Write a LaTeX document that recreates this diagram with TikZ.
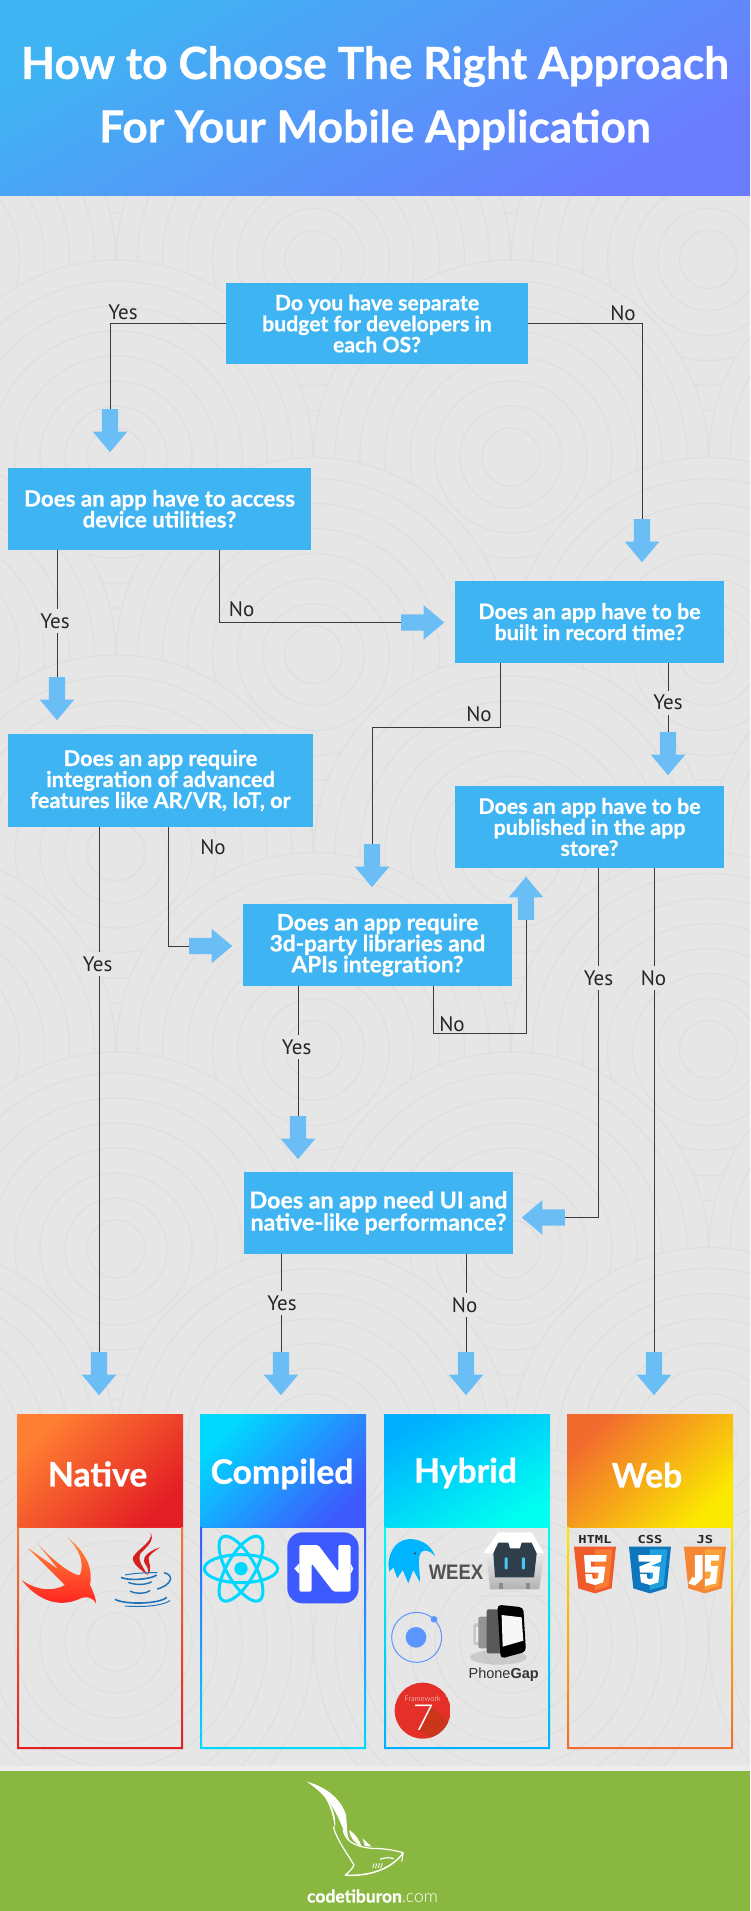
\documentclass[tikz,border=0pt]{standalone}
\usepackage{fontspec}
\setmainfont{Lato}[BoldFeatures={FakeBold=0.7}]
\newfontfamily\labelfont{PT Sans}
\newfontfamily\badgefont{DejaVu Sans Mono}
\newfontfamily\gapfont{Liberation Sans}
\newfontfamily\thinfont{Lato Light}
\usetikzlibrary{shapes.arrows}

\definecolor{bgcol}{HTML}{E6E6E6}
\definecolor{ringcol}{HTML}{DFDFDF}
\definecolor{boxcol}{HTML}{3EB4F2}
\definecolor{arrowcol}{HTML}{6ABDF5}
\definecolor{linecol}{HTML}{3A3A3A}
\definecolor{HeaderEnd}{HTML}{6B7CFF}
\definecolor{NativeA}{HTML}{FF7F32}
\definecolor{NativeB}{HTML}{E31E24}
\definecolor{NativeFrame}{HTML}{F47B35}
\definecolor{CompiledA}{HTML}{00D9FF}
\definecolor{CompiledB}{HTML}{3D5AFE}
\definecolor{HybridA}{HTML}{00B0FF}
\definecolor{HybridB}{HTML}{00FFF0}
\definecolor{WebA}{HTML}{F26B2E}
\definecolor{WebB}{HTML}{FBEA00}
\definecolor{SwiftA}{HTML}{FF8C3A}
\definecolor{SwiftB}{HTML}{FF1F1F}
\definecolor{JavaRed}{HTML}{D42020}
\definecolor{JavaBlue}{HTML}{1F73B8}
\definecolor{ReactCyan}{HTML}{00D8FF}
\definecolor{NBlue}{HTML}{3D5AFE}
\definecolor{EagleBlue}{HTML}{00B4FF}
\definecolor{CordovaDark}{HTML}{2F3E4B}
\definecolor{IonicBlue}{HTML}{5B95FF}
\definecolor{F7Red}{HTML}{E5302A}
\definecolor{F7Dark}{HTML}{C9361A}
\definecolor{HtmlA}{HTML}{F15A2B}
\definecolor{HtmlB}{HTML}{F77B33}
\definecolor{CssA}{HTML}{0E76BC}
\definecolor{CssB}{HTML}{20A0DC}
\definecolor{JsA}{HTML}{F58634}
\definecolor{JsB}{HTML}{FBA23A}
\definecolor{FooterGreen}{HTML}{8AB73F}

\tikzset{
    question/.style={fill=boxcol, text=white, inner sep=0pt, align=center,
        font=\fontsize{#1}{21}\selectfont\bfseries},
    flow/.style={single arrow, fill=arrowcol, inner sep=8pt, minimum width=34pt,
        minimum height=43pt, single arrow head extend=9pt, single arrow tip angle=80,
        anchor=tail},
    link/.style={draw=linecol, line width=1pt},
    answer/.style={inner sep=0pt, text=black!85, font=\labelfont\fontsize{21}{21}\selectfont},
    gapanswer/.style={answer, fill=bgcol, minimum height=24pt, minimum width=28pt},
    ring/.style={draw=ringcol, line width=1.3pt},
    cardname/.style={text=white, inner sep=0pt, font=\fontsize{33.7}{33.7}\selectfont\bfseries},
    badge/.style={inner sep=0pt, text=black!85, font=\badgefont\bfseries\fontsize{11}{11}\selectfont,
        xscale=1.25, transform shape}
}

\begin{document}
\begin{tikzpicture}[x=1pt,y=-1pt]

    \useasboundingbox (0,0) rectangle (750,1911);
    \fill[color=black!7] (0,0) rectangle (750,1911);

    \begin{scope}
        \clip (0,195) rectangle (750,1765);
        \fill[bgcol] (0,195) rectangle (750,1765);
        \foreach \rowy/\rowx in {62/116,259.5/-81.5,457/116,654.5/-81.5,852/116,1049.5/-81.5,1249/116,1444.5/-81.5,1642/116}{
            \foreach \col in {0,1,2}{
                \fill[bgcol] ({\rowx+395*\col},\rowy) circle (197);
                \foreach \rad in {29,51,76,101,126,151,176,197}{
                    \draw[ring] ({\rowx+395*\col},\rowy) circle (\rad);
                }
            }
        }
    \end{scope}

    \shade[top color=boxcol, bottom color=HeaderEnd, shading angle=30] (0,0) rectangle (750,195);
    \node[inner sep=0pt, align=center, text=white, font=\fontsize{44.3}{63.5}\selectfont\bfseries] (title) at (375,98)
        {How to Choose The Right Approach\\For Your Mobile Application};

    \node[question=21.2, minimum width=302pt, minimum height=81pt] (budget) at (377,323.5)
        {Do you have separate\\budget for developers in\\each OS?};
    \node[question=22.3, minimum width=303pt, minimum height=81.5pt] (utilities) at (159.5,508.75)
        {Does an app have to access\\device utilities?};
    \node[question=21.4, minimum width=269pt, minimum height=81.5pt] (recordtime) at (589.5,621.75)
        {Does an app have to be\\built in record time?};
    \node[question=21.7, minimum width=305pt, minimum height=93pt] (advanced) at (160.5,780.5)
        {Does an app require\\integration of advanced\\features like AR/VR, IoT, or};
    \node[question=21.4, minimum width=269pt, minimum height=82pt] (published) at (589.5,827)
        {Does an app have to be\\published in the app\\store?};
    \node[question=22.6, minimum width=269pt, minimum height=82pt] (libraries) at (377.5,945)
        {Does an app require\\3d-party libraries and\\APIs integration?};
    \node[question=23.2, minimum width=269pt, minimum height=81.5pt] (performance) at (378.5,1212.75)
        {Does an app need UI and\\native-like performance?};

    \node[flow, shape border rotate=270] (arrowutil) at (110,409) {};
    \node[flow, shape border rotate=270] (arrowrec) at (642,519) {};
    \node[flow, shape border rotate=0] (arrowrec2) at (401,622.5) {};
    \node[flow, shape border rotate=270] (arrowadv) at (57,677) {};
    \node[flow, shape border rotate=270] (arrowpub) at (668,732) {};
    \node[flow, shape border rotate=270] (arrowlib) at (372,844) {};
    \node[flow, shape border rotate=0] (arrowlib2) at (189,946) {};
    \node[flow, shape border rotate=90] (arrowpub2) at (526,920) {};
    \node[flow, shape border rotate=270] (arrowperf) at (298,1116) {};
    \node[flow, shape border rotate=180] (arrowperf2) at (565,1217.5) {};
    \node[flow, shape border rotate=270] (arrownative) at (99,1352) {};
    \node[flow, shape border rotate=270] (arrowcompiled) at (281,1352) {};
    \node[flow, shape border rotate=270] (arrowhybrid) at (466,1352) {};
    \node[flow, shape border rotate=270] (arrowweb) at (654,1352) {};

    \draw[link] (budget.west) -| (arrowutil.tail);
    \draw[link] (budget.east) -| (arrowrec.tail);
    \draw[link] (arrowadv.tail |- utilities.south) -- (arrowadv.tail);
    \draw[link] ([xshift=60pt]utilities.south) |- (arrowrec2.tail);
    \draw[link] (arrowpub.tail |- recordtime.south) -- (arrowpub.tail);
    \draw[link] ([xshift=-89pt]recordtime.south) -- ++(0,65) -| (arrowlib.tail);
    \draw[link] (arrownative.tail |- advanced.south) -- (arrownative.tail);
    \draw[link] ([xshift=8pt]advanced.south) |- (arrowlib2.tail);
    \draw[link] ([xshift=8.5pt]published.south) |- (arrowperf2.tail);
    \draw[link] (arrowweb.tail |- published.south) -- (arrowweb.tail);
    \draw[link] (arrowperf.tail |- libraries.south) -- (arrowperf.tail);
    \draw[link] ([xshift=56pt]libraries.south) -- ++(0,47.5) -| (arrowpub2.tail);
    \draw[link] (arrowcompiled.tail |- performance.south) -- (arrowcompiled.tail);
    \draw[link] (arrowhybrid.tail |- performance.south) -- (arrowhybrid.tail);

    \node[answer] (yes1) at (123,312) {Yes};
    \node[answer] (no1) at (623,313) {No};
    \node[gapanswer] (yes2) at (55,621) {Yes};
    \node[answer] (no2) at (241.6,609) {No};
    \node[answer] (no3) at (479,714) {No};
    \node[gapanswer] (yes3) at (668,702.5) {Yes};
    \node[answer] (no4) at (213,847) {No};
    \node[gapanswer] (yes4) at (97.6,964) {Yes};
    \node[gapanswer] (yes5) at (598.5,978) {Yes};
    \node[gapanswer] (no5) at (653.5,978) {No};
    \node[gapanswer] (yes6) at (296.6,1047) {Yes};
    \node[answer] (no6) at (452,1023.7) {No};
    \node[gapanswer] (yes7) at (282,1303) {Yes};
    \node[gapanswer] (no7) at (464.6,1305) {No};

    \shade[top color=NativeA, bottom color=NativeB, shading angle=45] (17,1414) rectangle (183,1527.5);
    \shade[top color=CompiledA, bottom color=CompiledB, shading angle=45] (200,1414) rectangle (366,1527.5);
    \shade[top color=HybridA, bottom color=HybridB, shading angle=30] (384,1414) rectangle (550,1527.5);
    \shade[top color=WebA, bottom color=WebB, shading angle=45] (567,1414) rectangle (733,1527.5);

    \shade[even odd rule, top color=NativeFrame, bottom color=NativeB] (17,1527) rectangle (183,1749) (19,1527) rectangle (181,1747);
    \shade[even odd rule, top color=CompiledB, bottom color=CompiledA] (200,1527) rectangle (366,1749) (202,1527) rectangle (364,1747);
    \shade[even odd rule, top color=HybridB, bottom color=HybridA] (384,1527) rectangle (550,1749) (386,1527) rectangle (548,1747);
    \shade[even odd rule, top color=WebB, bottom color=WebA] (567,1527) rectangle (733,1749) (569,1527) rectangle (731,1747);

    \node[cardname] (native) at (97.6,1474) {Native};
    \node[cardname] (compiled) at (282,1474) {Compiled};
    \node[cardname] (hybrid) at (465.5,1473) {Hybrid};
    \node[cardname] (web) at (647,1475) {Web};

    \begin{scope}[shift={(10,1520)},x=0.3333pt,y=-0.3333pt]
        \shade[top color=SwiftA, bottom color=SwiftB] (172,52) .. controls (225,95) and (250,140) .. (240,195)
            .. controls (250,215) and (258,235) .. (258,250) .. controls (245,228) and (225,228) .. (205,238)
            .. controls (150,262) and (85,245) .. (35,180) .. controls (80,212) and (130,215) .. (165,195)
            -- (55,85) -- (145,148) -- (82,70) .. controls (130,125) and (195,170) .. (210,165)
            .. controls (225,125) and (205,85) .. (172,52) -- cycle;

        \fill[JavaRed] (422,38) .. controls (430,65) and (385,85) .. (370,110) .. controls (362,130) and (395,150) .. (412,165)
            .. controls (400,140) and (380,120) .. (392,100) .. controls (410,80) and (435,62) .. (422,38) -- cycle;
        \fill[JavaRed] (450,82) .. controls (420,92) and (398,108) .. (402,125) .. controls (408,138) and (420,148) .. (412,165)
            .. controls (432,145) and (412,125) .. (416,112) .. controls (422,100) and (440,90) .. (450,82) -- cycle;
        \draw[JavaBlue, line width=1.6pt] (333,172) .. controls (350,182) and (420,180) .. (440,165);
        \draw[JavaBlue, line width=1pt] (345,165) .. controls (380,158) and (420,158) .. (442,158);
        \draw[JavaBlue, line width=1.4pt] (355,187) .. controls (375,196) and (410,195) .. (425,185);
        \draw[JavaBlue, line width=1.4pt] (360,213) .. controls (375,222) and (410,222) .. (420,211);
        \draw[JavaBlue, line width=1.6pt] (315,238) .. controls (345,255) and (450,252) .. (470,232);
        \draw[JavaBlue, line width=1pt] (345,258) .. controls (400,262) and (455,258) .. (480,242);
        \draw[JavaBlue, line width=1.5pt] (462,158) .. controls (495,165) and (485,195) .. (442,207);

        \fill[ReactCyan] (693,146) circle (20);
        \foreach \tilt in {0,60,120}{
            \draw[ReactCyan, line width=3pt, rotate around={\tilt:(693,146)}] (693,146) ellipse (110 and 42);
        }

        \fill[NBlue, rounded corners=15pt] (832,37) rectangle (1046,250);
        \fill[white, rounded corners=2pt] (868,75) -- (925,75) -- (985,155) -- (985,75) -- (1022,75) -- (1022,215) -- (970,215) -- (905,130) -- (905,215) -- (868,215) -- cycle;
        \fill[white] (868,130) -- (853,146) -- (868,162) -- cycle;
        \fill[white] (1022,130) -- (1030,146) -- (1022,162) -- cycle;
    \end{scope}

    \begin{scope}[shift={(380,1520)},x=0.3333pt,y=-0.3333pt]
        \fill[EagleBlue] (25,130) .. controls (30,85) and (55,58) .. (90,57) .. controls (130,58) and (155,80) .. (165,108)
            .. controls (150,92) and (135,88) .. (125,95) .. controls (110,110) and (120,150) .. (120,187)
            -- (100,150) -- (85,190) -- (68,150) -- (52,175) -- (40,142) -- (28,155) -- cycle;
        \fill[black!70] (105,100) circle (4);
        \node[inner sep=0pt, text=black!68, font=\gapfont\bfseries\fontsize{21}{21}\selectfont, xscale=0.88, transform shape] (weex) at (228,156) {WEEX};

        \fill[black!12] (300,225) rectangle (490,232);
        \fill[white] (310,100) -- (355,37) -- (455,37) -- (492,100) -- cycle;
        \shade[top color=black!8, bottom color=black!30] (320,100) -- (492,100) -- (478,208) -- (330,208) -- cycle;
        \fill[CordovaDark] (340,100) -- (355,68) -- (385,68) -- (390,85) -- (420,85) -- (425,68) -- (455,68) -- (470,100) -- (462,172) -- (345,172) -- cycle;
        \fill[cyan!70!white, rounded corners=1pt] (374,112) rectangle (383,148);
        \fill[cyan!70!white, rounded corners=1pt] (426,112) rectangle (435,148);
        \fill[black!45] (358,190) rectangle (370,208);
        \fill[black!45] (438,190) rectangle (450,208);

        \draw[IonicBlue, line width=1pt] (110,352) circle (75);
        \fill[IonicBlue] (108,352) circle (31);
        \fill[IonicBlue] (162,298) circle (10);

        \fill[black, opacity=0.12] (355,412) ellipse (85 and 22);
        \fill[black!22, rounded corners=2pt] (280,310) rectangle (345,375);
        \fill[black!8] (288,320) rectangle (312,365);
        \fill[black!42, rounded corners=2pt] (295,290) rectangle (358,385);
        \fill[black!6] (328,305) rectangle (345,370);
        \fill[black!65, rounded corners=2pt] (320,268) rectangle (375,400);
        \fill[black, rounded corners=4pt] (352,254) -- (430,262) -- (438,395) -- (362,416) -- cycle;
        \fill[black!3] (365,285) -- (425,292) -- (430,362) -- (368,380) -- cycle;
        \node[inner sep=0pt, text=black!80, font=\gapfont\fontsize{14.5}{14.5}\selectfont] (phonegap) at (371,465) {Phone\textbf{Gap}};

        \begin{scope}
            \clip (128,572) circle (84);
            \fill[F7Red] (128,572) circle (84);
            \fill[F7Dark] (152,558) -- (230,625) -- (190,680) -- (118,630) -- cycle;
        \end{scope}
        \node[inner sep=0pt, text=white, font=\thinfont\fontsize{7.5}{7.5}\selectfont] (framework) at (128,535) {Framework};
        \node[inner sep=0pt, text=white, font=\thinfont\fontsize{36}{36}\selectfont] (seven) at (130,593) {7};

        \fill[HtmlA] (582,80) -- (708,80) -- (695,205) -- (645,220) -- (595,205) -- cycle;
        \fill[HtmlB] (645,88) -- (697,88) -- (686,198) -- (645,210) -- cycle;
        \fill[white] (612,105) -- (680,105) -- (678,125) -- (632,125) -- (633,140) -- (676,140) -- (670,187) -- (645,195) -- (618,187) -- (616,162) -- (636,162) -- (638,175) -- (645,177) -- (654,175) -- (656,158) -- (616,158) -- cycle;
        \node[badge] (html) at (645,58) {HTML};

        \fill[CssA] (747,80) -- (873,80) -- (860,205) -- (810,220) -- (760,205) -- cycle;
        \fill[CssB] (810,88) -- (862,88) -- (851,198) -- (810,210) -- cycle;
        \fill[white] (775,105) -- (845,105) -- (842,125) -- (812,138) -- (840,140) -- (835,187) -- (810,195) -- (783,187) -- (780,162) -- (800,162) -- (802,175) -- (810,177) -- (818,175) -- (820,158) -- (780,158) -- (778,140) -- (815,125) -- (776,125) -- cycle;
        \node[badge] (css) at (810,58) {CSS};

        \fill[JsA] (912,80) -- (1038,80) -- (1025,205) -- (975,220) -- (925,205) -- cycle;
        \fill[JsB] (975,88) -- (1027,88) -- (1016,198) -- (975,210) -- cycle;
        \fill[white] (945,105) -- (968,105) -- (968,175) -- (945,197) -- (925,190) -- (938,170) -- (945,175) -- cycle;
        \fill[white] (975,105) -- (1018,105) -- (1016,122) -- (993,122) -- (993,138) -- (1014,138) -- (1008,190) -- (975,198) -- (975,178) -- (990,175) -- (993,155) -- (975,155) -- cycle;
        \node[badge] (js) at (975,58) {JS};
    \end{scope}

    \fill[FooterGreen] (0,1770.5) rectangle (750,1911);

    \begin{scope}[shift={(290,1740)},x=0.3333pt,y=-0.3333pt]
        \fill[white] (50,125) .. controls (110,140) and (155,180) .. (168,225) .. controls (172,260) and (170,285) .. (178,300)
            .. controls (150,270) and (150,190) .. (50,125) -- cycle;
        \fill[white] (100,165) .. controls (125,190) and (140,230) .. (135,265) .. controls (130,235) and (125,200) .. (100,165) -- cycle;
        \fill[white] (178,270) .. controls (200,285) and (210,305) .. (215,320) .. controls (195,310) and (180,295) .. (178,270) -- cycle;
        \fill[white] (218,295) -- (245,320) -- (225,318) -- cycle;
        \draw[white, line width=1.2pt] (130,260) .. controls (140,300) and (175,345) .. (192,375) .. controls (185,390) and (175,398) .. (165,405);
        \draw[white, line width=1.5pt] (165,405) .. controls (220,410) and (300,395) .. (340,338);
        \draw[white, line width=1.2pt] (160,270) .. controls (165,300) and (190,320) .. (245,325) .. controls (280,325) and (310,330) .. (340,338);
        \draw[white, line width=1pt] (340,338) -- (335,365);
        \draw[white, line width=1.2pt] (270,358) .. controls (285,352) and (300,352) .. (312,356);
        \foreach \gill in {248,256,264,272}{
            \draw[white, line width=0.8pt] (\gill,384) -- ({\gill+5},370);
        }
    \end{scope}
    \node[inner sep=0pt, text=white, font=\fontsize{17.5}{17.5}\selectfont] (site) at (372.5,1896) {\textbf{codetiburon}{\thinfont.com}};

\end{tikzpicture}
\end{document}
